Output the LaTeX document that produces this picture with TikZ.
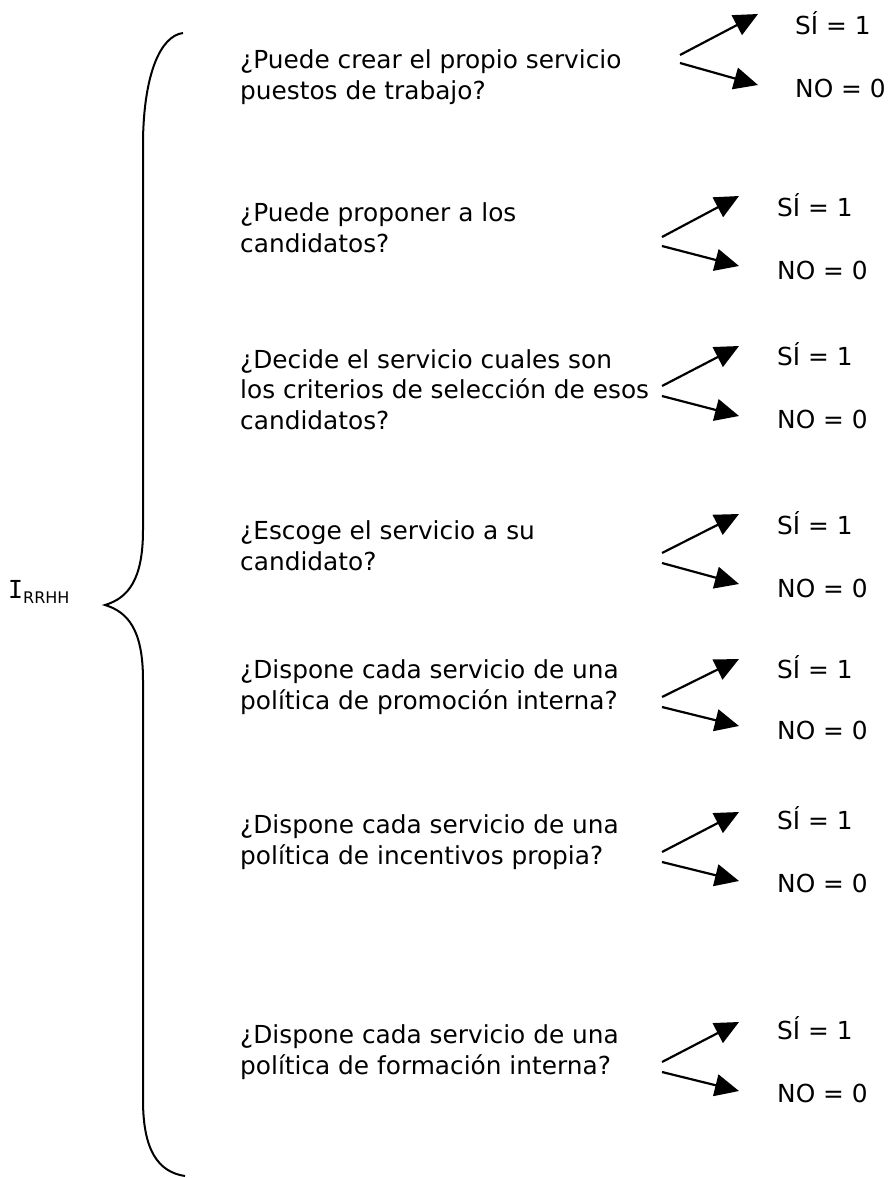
\documentclass[tikz,border=0pt]{standalone}
\usepackage{fontspec}
\setmainfont{DejaVu Sans}
\newfontfamily\monofam{DejaVu Sans Mono}
\usetikzlibrary{arrows.meta}
\begin{document}
\begin{tikzpicture}[x=1pt,y=-1pt,
  question/.style={anchor=base west,align=left,inner sep=0pt,font=\fontsize{24.8}{30.4}\selectfont},
  answer/.style={anchor=base west,inner sep=0pt,font=\fontsize{24.8}{30.4}\selectfont},
  choice/.style={line width=2.2pt,-{Triangle[length=24pt,width=22pt]}},
  bracestyle/.style={line width=2pt}]
\useasboundingbox (0,0) rectangle (892,1178);
% label
\node[anchor=base west,inner sep=0pt] (lab) at (8,598)
  {\fontsize{24.8}{30}\selectfont{\monofam I}\raisebox{-5pt}{\fontsize{16}{18}\selectfont RRHH}};
% brace
\draw[bracestyle] (183,33) .. controls (160,36) and (144,75) .. (143,140)
  -- (143,530) .. controls (143,580) and (128,598) .. (105,605)
  .. controls (128,612) and (143,630) .. (143,680)
  -- (143,1100) .. controls (143,1150) and (158,1172) .. (185,1176);
% questions (base = baseline of last line)
\node[question] (q1) at (240,99) {¿Puede crear el propio servicio\\puestos de trabajo?};
\node[question] (q2) at (240,252) {¿Puede proponer a los\\candidatos?};
\node[question] (q3) at (240,429) {¿Decide el servicio cuales son\\los criterios de selección de esos\\candidatos?};
\node[question] (q4) at (240,570) {¿Escoge el servicio a su\\candidato?};
\node[question] (q5) at (240,709) {¿Dispone cada servicio de una\\política de promoción interna?};
\node[question] (q6) at (240,864) {¿Dispone cada servicio de una\\política de incentivos propia?};
\node[question] (q7) at (240,1074) {¿Dispone cada servicio de una\\política de formación interna?};
% answers
\node[answer] (y1) at (795,34) {SÍ = 1};
\node[answer] (n1) at (795,97) {NO = 0};
\node[answer] (y2) at (777,216) {SÍ = 1};
\node[answer] (n2) at (777,279) {NO = 0};
\node[answer] (y3) at (777,365) {SÍ = 1};
\node[answer] (n3) at (777,428) {NO = 0};
\node[answer] (y4) at (777,534) {SÍ = 1};
\node[answer] (n4) at (777,597) {NO = 0};
\node[answer] (y5) at (777,678) {SÍ = 1};
\node[answer] (n5) at (777,739) {NO = 0};
\node[answer] (y6) at (777,829) {SÍ = 1};
\node[answer] (n6) at (777,892) {NO = 0};
\node[answer] (y7) at (777,1039) {SÍ = 1};
\node[answer] (n7) at (777,1102) {NO = 0};
% arrow start and end points
\coordinate (s1a) at (680,55);  \coordinate (t1a) at (758,14);
\coordinate (s1b) at (680,63);  \coordinate (t1b) at (758,85);
\coordinate (s2a) at (662,237); \coordinate (t2a) at (739,196);
\coordinate (s2b) at (662,246); \coordinate (t2b) at (739,266);
\coordinate (s3a) at (662,386); \coordinate (t3a) at (739,346);
\coordinate (s3b) at (662,396); \coordinate (t3b) at (739,416);
\coordinate (s4a) at (662,553); \coordinate (t4a) at (739,514);
\coordinate (s4b) at (662,563); \coordinate (t4b) at (739,584);
\coordinate (s5a) at (662,697); \coordinate (t5a) at (739,659);
\coordinate (s5b) at (662,707); \coordinate (t5b) at (739,726);
\coordinate (s6a) at (662,852); \coordinate (t6a) at (739,812);
\coordinate (s6b) at (662,862); \coordinate (t6b) at (739,881);
\coordinate (s7a) at (662,1062); \coordinate (t7a) at (739,1022);
\coordinate (s7b) at (662,1072); \coordinate (t7b) at (739,1091);
\foreach \i in {1,...,7}{
  \draw[choice] (s\i a) -- (t\i a);
  \draw[choice] (s\i b) -- (t\i b);
}
\end{tikzpicture}
\end{document}
